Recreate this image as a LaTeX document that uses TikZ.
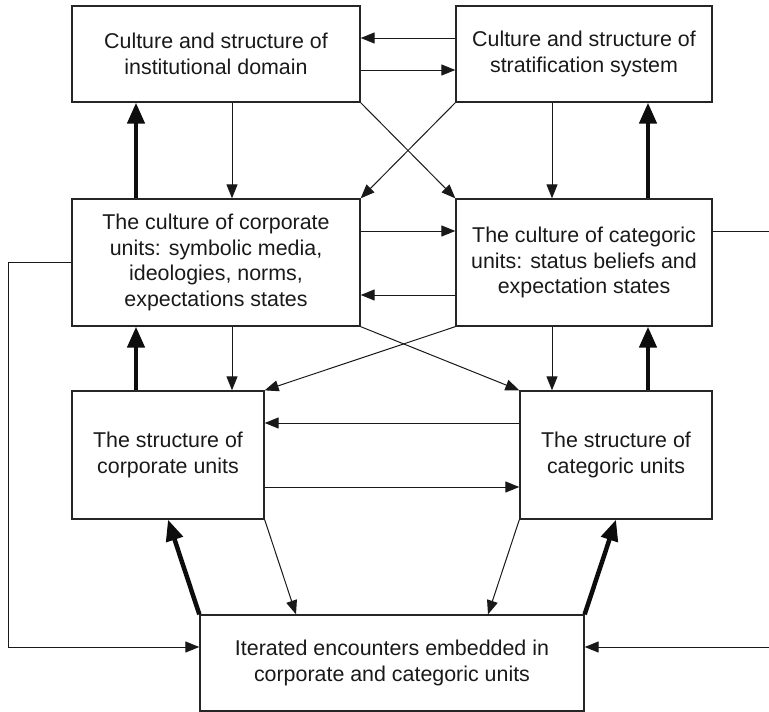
\documentclass[tikz,border=0pt]{standalone}
\usepackage{fontspec}
\setmainfont{Liberation Sans}
\usetikzlibrary{arrows.meta}
\begin{document}
\begin{tikzpicture}[x=1pt,y=1pt,
  box/.style={draw=black!85, line width=1.3pt, inner sep=0pt, align=center,
    font=\fontsize{21.4}{25.5}\selectfont, text=black!90},
  conn/.style={line width=1pt, draw=black!90, -{Triangle[length=14pt,width=11pt]}},
  plainline/.style={line width=1pt, draw=black!90},
  bigconn/.style={line width=4.5pt, draw=black!95, -{Triangle[length=21pt,width=17pt]}}]
\useasboundingbox (0,0) rectangle (769,-712);
\node[box, minimum width=288pt, minimum height=96pt] (A) at (216,-54)
  {Culture and structure of\\institutional domain};
\node[box, minimum width=256pt, minimum height=96pt] (B) at (584,-54)
  {Culture and structure of\\stratification system};
\node[box, minimum width=288pt, minimum height=127pt] (C) at (216,-262.5)
  {The culture of corporate\\units: symbolic media,\\ideologies, norms,\\expectations states};
\node[box, minimum width=256pt, minimum height=127pt] (D) at (584,-262.5)
  {The culture of categoric\\units: status beliefs and\\expectation states};
\node[box, minimum width=192pt, minimum height=128pt] (E) at (168,-455)
  {The structure of\\corporate units};
\node[box, minimum width=192pt, minimum height=128pt] (F) at (616,-455)
  {The structure of\\categoric units};
\node[box, minimum width=384pt, minimum height=96pt] (G) at (392,-663)
  {Iterated encounters embedded in\\corporate and categoric units};
\coordinate (Lt) at (8,-262.5);
\coordinate (Lb) at (8,-647);
\coordinate (Rt) at (769,-231);
\coordinate (Rb) at (769,-647);
% A <-> B
\draw[conn] ([yshift=16]B.west) -- ([yshift=16]A.east);
\draw[conn] ([yshift=-16]A.east) -- ([yshift=-16]B.west);
% A,B -> C,D
\draw[conn] ([xshift=16]A.south) -- ([xshift=16]C.north);
\draw[conn] ([xshift=-32]B.south) -- ([xshift=-32]D.north);
\draw[conn] (A.south east) -- (D.north west);
\draw[conn] (B.south west) -- (C.north east);
\draw[bigconn] ([xshift=-80]C.north) -- ([xshift=-80]A.south);
\draw[bigconn] ([xshift=64]D.north) -- ([xshift=64]B.south);
% C <-> D
\draw[conn] ([yshift=31.5]C.east) -- ([yshift=31.5]D.west);
\draw[conn] ([yshift=-32.5]D.west) -- ([yshift=-32.5]C.east);
% C,D -> E,F
\draw[conn] ([xshift=16]C.south) -- ([xshift=64]E.north);
\draw[conn] ([xshift=-32]D.south) -- ([xshift=-64]F.north);
\draw[conn] (C.south east) -- (F.north west);
\draw[conn] (D.south west) -- (E.north east);
\draw[bigconn] ([xshift=-32]E.north) -- ([xshift=-80]C.south);
\draw[bigconn] ([xshift=32]F.north) -- ([xshift=64]D.south);
% E <-> F
\draw[conn] ([yshift=32]F.west) -- ([yshift=32]E.east);
\draw[conn] ([yshift=-32]E.east) -- ([yshift=-32]F.west);
% E,F -> G
\draw[conn] (E.south east) -- ([xshift=-96]G.north);
\draw[conn] (F.south west) -- ([xshift=96]G.north);
\draw[bigconn] (G.north west) -- (E.south);
\draw[bigconn] (G.north east) -- (F.south);
% outer loops
\draw[conn] (C.west) -- (Lt) -- (Lb) -- ([yshift=16]G.west);
\draw[plainline] ([yshift=31.5]D.east) -- (Rt);
\draw[conn] (Rb) -- ([yshift=16]G.east);
\end{tikzpicture}
\end{document}
